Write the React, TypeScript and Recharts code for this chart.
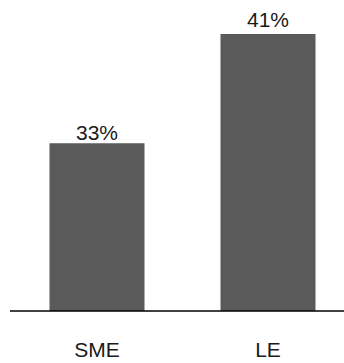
import { BarChart, Bar, XAxis, YAxis, LabelList } from 'recharts';

const categories = ['SME', 'LE'];
const shares = [33, 41];

const data = categories.map((name, i) => ({ name, value: shares[i] }));

// gap between bar top and label baseline, per bar
const labelGaps = [3, 7];

function TopLabel(props: any) {
  const { x, y, width, value, index } = props;
  return (
    <text
      x={x + width / 2}
      y={y - labelGaps[index]}
      textAnchor="middle"
      fill="#1a1a1a"
      fontSize={21}
    >
      {`${value}%`}
    </text>
  );
}

export default function App() {
  return (
    <div style={{ position: 'fixed', left: 0, top: 0, width: 344, height: 363, overflow: 'hidden', background: '#fff' }}>
      <BarChart
        width={356}
        height={363}
        data={data}
        margin={{ top: 34, right: 2, left: 10, bottom: 0 }}
        barCategoryGap={0}
        style={{ fontFamily: '"Liberation Sans", Arial, sans-serif' }}
      >
        <XAxis
          dataKey="name"
          height={52}
          padding={{ left: 1.5, right: 0.5 }}
          tickLine={false}
          tickMargin={25}
          axisLine={{ stroke: '#000', strokeWidth: 1.5 }}
          tick={{ fill: '#1a1a1a', fontSize: 21 }}
        />
        <YAxis hide domain={[20.7, 41]} />
        <Bar dataKey="value" fill="#5a5a5a" barSize={95} isAnimationActive={false}>
          <LabelList dataKey="value" content={TopLabel} />
        </Bar>
      </BarChart>
    </div>
  );
}
